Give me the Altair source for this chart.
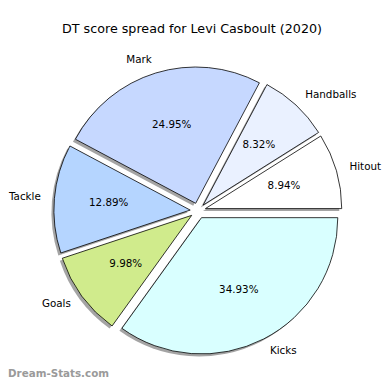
import altair as alt
import pandas as pd

# ---- data ----
labels = ["Hitout", "Handballs", "Mark", "Tackle", "Goals", "Kicks"]
shares = [8.94, 8.32, 24.95, 12.89, 9.98, 34.93]
colors = ["#ffffff", "#eaf1ff", "#c6d8ff", "#b5d5ff", "#d0eb8c", "#d9ffff"]
title_text = "DT score spread for Levi Casboult (2020)"
watermark = "Dream-Stats.com"

df = pd.DataFrame({"label": labels, "share": shares, "order": list(range(len(labels)))})

# ---- layout / style ----
R = 138.5          # pie radius in px
W, H = 380, 339    # plot area
CX, CY = 193, 168  # pie centre within plot area (px)
EXPLODE = 0.057    # explode distance in radius units
FONT = "DejaVu Sans"
FS = 10.5

xscale = alt.Scale(domain=[-CX / R, (W - CX) / R], nice=False, zero=False)
yscale = alt.Scale(domain=[-(H - CY) / R, CY / R], nice=False, zero=False)

base = (
    alt.Chart(df)
    .transform_window(cum="sum(share)", sort=[alt.SortField("order")])
    .transform_joinaggregate(total="sum(share)")
    .transform_calculate(a0="2*PI*(datum.cum-datum.share)/datum.total")
    .transform_calculate(a1="2*PI*datum.cum/datum.total")
    .transform_calculate(mid="(datum.a0+datum.a1)/2")
    .transform_calculate(cx=f"{EXPLODE}*cos(datum.mid)")
    .transform_calculate(cy=f"{EXPLODE}*sin(datum.mid)")
    .transform_calculate(t0="PI/2-datum.a1")
    .transform_calculate(t1="PI/2-datum.a0")
    .transform_calculate(pct="format(100*datum.share/datum.total,'.2f')+'%'")
    .transform_calculate(lx="datum.cx+1.1*cos(datum.mid)")
    .transform_calculate(ly="datum.cy+1.1*sin(datum.mid)")
    .transform_calculate(px="datum.cx+0.6*cos(datum.mid)")
    .transform_calculate(py="datum.cy+0.6*sin(datum.mid)")
)

X = alt.X("cx:Q", scale=xscale, axis=None)
Y = alt.Y("cy:Q", scale=yscale, axis=None)
TH = alt.Theta("t0:Q", scale=None, stack=False)
TH2 = alt.Theta2("t1:Q")

shadow = base.mark_arc(
    radius=R, xOffset=-2.5, yOffset=2.5, fill="#9a9a9a", opacity=0.9
).encode(x=X, y=Y, theta=TH, theta2=TH2)

arcs = base.mark_arc(radius=R, stroke="black", strokeWidth=0.8).encode(
    x=X,
    y=Y,
    theta=TH,
    theta2=TH2,
    color=alt.Color("label:N", scale=alt.Scale(domain=labels, range=colors), legend=None),
)

LX = alt.X("lx:Q", scale=xscale, axis=None)
LY = alt.Y("ly:Q", scale=yscale, axis=None)

lab_right = (
    base.transform_filter("cos(datum.mid) >= 0")
    .mark_text(align="left", baseline="middle", font=FONT, fontSize=FS, color="black")
    .encode(x=LX, y=LY, text="label:N")
)
lab_left = (
    base.transform_filter("cos(datum.mid) < 0")
    .mark_text(align="right", baseline="middle", font=FONT, fontSize=FS, color="black")
    .encode(x=LX, y=LY, text="label:N")
)
pcts = base.mark_text(align="center", baseline="middle", font=FONT, fontSize=FS, color="black").encode(
    x=alt.X("px:Q", scale=xscale, axis=None), y=alt.Y("py:Q", scale=yscale, axis=None), text="pct:N"
)

wm = alt.Chart(pd.DataFrame({"t": [watermark]})).mark_text(
    align="left", baseline="middle", font=FONT, fontSize=10.5, fontWeight="bold", color="#9a9a9a"
).encode(x=alt.value(0), y=alt.value(334), text="t:N")

chart = (
    alt.layer(shadow, arcs, lab_right, lab_left, pcts, wm)
    .properties(
        width=W,
        height=H,
        padding={"top": 35, "left": 0, "right": 0, "bottom": 0},
        autosize="none",
        title=alt.TitleParams(
            title_text, font=FONT, fontSize=12.9, fontWeight="normal", color="black",
            anchor="middle", offset=0, baseline="alphabetic", dx=-3,
        ),
    )
    .configure(background="white")
    .configure_view(stroke="transparent", strokeWidth=0)
)

chart.save("out.html", embed_options={"renderer": "svg", "actions": False})
